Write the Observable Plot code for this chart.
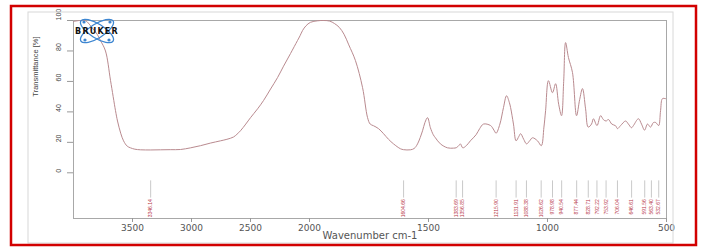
<!DOCTYPE html>
<html>
<head>
<meta charset="utf-8">
<script src="https://cdn.jsdelivr.net/npm/d3@7"></script>
<script src="https://cdn.jsdelivr.net/npm/@observablehq/plot@0.6"></script>
<style>
  html, body { margin: 0; padding: 0; background: #fff; }
  #chart { position: relative; width: 701px; height: 249px; }
</style>
</head>
<body>
<div id="chart"></div>
<script>
// Spectrum
const wavenumbers = [4000,3950,3900,3850,3800,3771,3729,3686,3644,3627,3600,3576,3545,3517,3480,3432,3346,3263,3180,3093,3008,2924,2840,2754,2700,2644,2615,2585,2540,2500,2440,2390,2330,2271,2220,2161,2102,2080,2059,2030,1996,1966,1940,1915,1895,1875,1855,1835,1807,1777,1756,1745,1731,1710,1689,1668,1647,1618,1605,1576,1560,1546,1525,1515,1504,1492,1480,1471,1450,1420,1395,1383,1372,1366,1356,1340,1324,1300,1285,1269,1239,1225,1216,1200,1185,1172,1160,1155,1143,1132,1120,1113,1100,1088,1075,1063,1042,1026,1015,1008,996,979,966,953,941,932,924,912,895,878,865,853,840,829,815,807,792,777,765,754,744,730,714,706,693,672,660,647,639,618,605,592,580,567,555,545,533,525,517,504,500];
const transmittance = [99.3,100,100,96,91,86.8,80,60.5,40.8,34,26,21,17.5,16.4,15.5,15.1,15,15.1,15.2,15.3,16.4,17.8,19.5,21,22,23.5,25.3,27.6,32,36.2,42,47.4,55,62.5,70,78.3,86.8,90,93.4,96.5,98.8,99.8,100,99.6,98,95.5,91,84,73.7,55.9,36.2,32,30.9,29,25.7,22,19,15.8,15.2,15.1,16,19,27.6,33,36.2,29.6,25,23,19,16.4,16.2,16.5,18,19,16.4,18,21,25,29,32,31,28,26,32,42.8,50.6,46,42.8,32,21,24,25.7,22,19,21,23,21,17.8,30,40.8,60.5,52.6,58.5,45,37.5,60,85.5,75.7,65.8,37.5,48,55.3,42,30,32,35.5,31,37.5,34.9,34,35,32,30.9,29,31,34,32,29.6,31,35.5,32,28,32,30,33,33,31,40.8,48.7,48.7,48.7];

// Peak annotations
const peakPositions = [3346.14,1604.66,1383.69,1356.85,1215.90,1131.91,1088.38,1026.62,978.98,940.54,877.44,828.71,792.22,753.92,706.04,646.61,591.56,563.40,532.67];
const peakLabels = ["3346.14","1604.66","1383.69","1356.85","1215.90","1131.91","1088.38","1026.62","978.98","940.54","877.44","828.71","792.22","753.92","706.04","646.61","591.56","563.40","532.67"];

const xTicks = [3500,3000,2500,2000,1500,1000,500];
const yTicks = [0,20,40,60,80,100];
const xLabel = "Wavenumber cm-1";
const yLabel = "Transmittance [%]";

const spectrum = wavenumbers.map((w, i) => ({w, t: transmittance[i]}));
const peaks = peakPositions.map((p, i) => ({p, label: peakLabels[i]}));

const plot = Plot.plot({
  width: 701,
  height: 249,
  marginLeft: 73,
  marginRight: 35,
  marginTop: 20,
  marginBottom: 31,
  style: {fontFamily: "Liberation Sans, Arial, sans-serif", background: "transparent"},
  x: {type: "linear", domain: [4000, 2000, 500], range: [73, 309, 666]},
  y: {domain: [-30, 100]},
  marks: [
    Plot.frame({stroke: "#a8a8a8"}),
    Plot.axisX({ticks: xTicks, tickSize: 4, tickPadding: 2, tickFormat: d => String(d), fontSize: 9, fontFamily: "DejaVu Sans", fill: "#555", stroke: "#999", label: null}),
    Plot.axisY({ticks: yTicks, tickSize: 6, tickFormat: () => "", stroke: "#999", label: null}),
    Plot.text(yTicks, {y: d => d, frameAnchor: "left", dx: -15, rotate: -90, text: d => String(d), fontSize: 7, fill: "#444"}),
    Plot.text([yLabel], {y: () => 50, frameAnchor: "left", dx: -38, rotate: -90, text: d => d, fontSize: 7.5, fill: "#444"}),
    Plot.text([xLabel], {frameAnchor: "bottom", dy: 20, text: d => d, fontSize: 10, fontFamily: "DejaVu Sans", fill: "#555"}),
    Plot.line(spectrum, {x: "w", y: "t", stroke: "#b98a8f", strokeWidth: 1, curve: "catmull-rom", clip: true}),
    Plot.ruleX(peaks, {x: "p", y1: -5.3, y2: -16.6, stroke: "#bbbbbb", strokeWidth: 0.8}),
    Plot.text(peaks, {x: "p", y: -17.3, text: "label", rotate: -90, textAnchor: "end", fontSize: 5, fill: "#b8394a"})
  ]
});

const container = document.getElementById("chart");
container.appendChild(plot);

// Decorative frame and logo
const svg = d3.select(plot);
svg.insert("rect", ":first-child").attr("x", 0).attr("y", 0).attr("width", 701).attr("height", 249).attr("fill", "#fff");
svg.append("rect").attr("x", 28).attr("y", 12).attr("width", 645).attr("height", 231)
  .attr("fill", "none").attr("stroke", "#d8d8d8").attr("stroke-width", 1);
svg.append("rect").attr("x", 11).attr("y", 6).attr("width", 685).attr("height", 239)
  .attr("fill", "none").attr("stroke", "#d20000").attr("stroke-width", 2.5);

const logo = svg.append("g").attr("transform", "translate(97,31)");
[-32, 32].forEach(a => {
  logo.append("ellipse").attr("rx", 19).attr("ry", 7).attr("transform", `rotate(${a})`)
    .attr("fill", "none").attr("stroke", "#3d86d1").attr("stroke-width", 1.3);
});
[[-13,-9],[12,9],[-12,9],[13,-9]].forEach(([cx, cy]) => {
  logo.append("circle").attr("cx", cx).attr("cy", cy).attr("r", 1.6).attr("fill", "#3d86d1");
});
logo.append("text").attr("x", 0).attr("y", 3).attr("text-anchor", "middle")
  .attr("font-family", "DejaVu Sans").attr("font-weight", "bold").attr("font-size", 8)
  .attr("letter-spacing", 1.2).attr("fill", "#111").text("BRUKER");
</script>
</body>
</html>
